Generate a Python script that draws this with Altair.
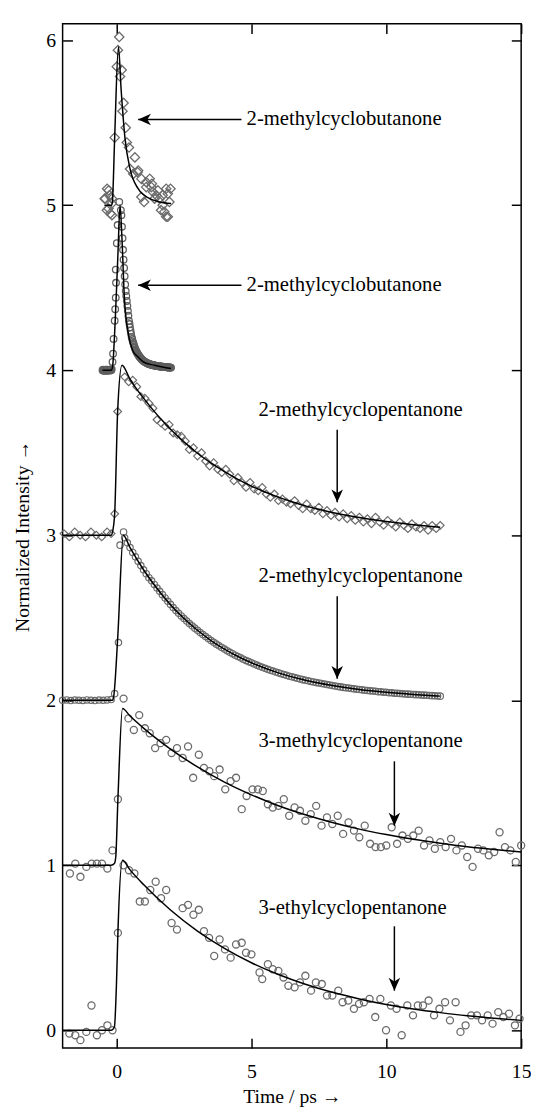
import altair as alt
import pandas as pd

FONT = "Liberation Serif, Times New Roman, serif"

# ---------------- data ----------------
# 2-methylcyclobutanone, diamonds, offset 5
s1_t = [-0.44,-0.42,-0.36,-0.35,-0.30,-0.29,-0.27,-0.23,-0.18,-0.17,-0.17,-0.07,0.01,0.05,0.10,0.13,0.19,0.22,0.26,0.34,
        0.38,0.46,0.50,0.62,0.68,0.78,0.80,0.92,0.92,1.02,1.10,1.10,1.23,1.29,1.31,1.35,1.41,1.47,1.53,1.59,
        1.65,1.71,1.71,1.77,1.84,1.84,1.90,1.90,1.96,2.00]
s1_v = [5.04,5.04,4.97,5.10,4.98,5.09,5.06,4.95,5.01,5.04,4.94,5.41,5.84,5.94,6.02,5.78,5.82,5.57,5.62,5.47,
        5.38,5.35,5.22,5.19,5.29,5.20,5.21,5.16,5.05,5.02,5.14,5.11,5.16,5.11,5.13,5.08,5.04,5.06,5.09,5.04,
        4.97,5.00,5.06,4.96,4.93,5.10,4.93,5.07,5.02,5.10]
f1_t = [-0.45,-0.18,-0.15,-0.07,0.07,0.17,0.31,0.50,0.80,1.23,1.60,2.02]
f1_v = [5.00,5.00,5.03,5.41,5.96,5.70,5.41,5.22,5.10,5.04,5.02,5.01]

# 2-methylcyclobutanone, dense circles, offset 4
s2_t = [-0.52,-0.50,-0.48,-0.46,-0.44,-0.42,-0.40,-0.38,-0.36,-0.34,-0.32,-0.30,-0.28,-0.26,-0.24,-0.22,-0.20,-0.18,
        -0.15,-0.13,-0.11,-0.07,-0.05,-0.03,-0.02,-0.03,0.01,0.04,0.10,
        0.16,0.18,0.20,0.22,0.24,0.26,0.28,0.30,0.32,0.34,0.36,0.38,0.40,0.42,0.44,0.46,0.48,0.50,0.52,0.54,
        0.56,0.58,0.60,0.62,0.64,0.66,0.68,
        0.70,0.72,0.74,0.76,0.78,0.80,0.82,0.84,0.86,0.88,0.90,0.92,0.94,0.96,0.98,1.00,
        1.02,1.04,1.06,1.08,1.10,1.12,1.14,1.16,1.18,1.20,1.22,1.24,1.26,1.28,1.30,1.32,1.34,1.36,1.38,1.40,
        1.42,1.44,1.46,1.48,1.50,
        1.52,1.54,1.56,1.58,1.60,1.62,1.64,1.66,1.68,1.70,1.72,1.74,1.76,1.78,1.80,1.82,1.84,1.86,1.88,1.90,
        1.92,1.94,1.96,1.98,2.00,2.02]
s2_v = [4.000,4.004,3.997,4.002,4.000,3.996,4.003,4.001,3.998,4.004,4.000,3.997,4.002,4.001,3.999,4.003,4.000,4.006,
        4.05,4.10,4.19,4.30,4.37,4.44,4.53,4.61,4.77,4.88,5.02,
        4.97,4.94,4.87,4.80,4.73,4.67,4.62,4.57,4.52,4.48,4.45,4.42,4.39,4.36,4.33,4.30,4.28,4.26,4.24,4.22,
        4.20,4.19,4.175,4.165,4.155,4.145,4.135,
        4.125,4.118,4.112,4.106,4.100,4.095,4.090,4.085,4.080,4.076,4.072,4.068,4.065,4.062,4.059,4.056,
        4.054,4.052,4.050,4.048,4.046,4.044,4.042,4.041,4.040,4.038,4.037,4.036,4.035,4.034,4.033,4.032,4.031,
        4.030,4.030,4.029,4.028,4.028,4.027,4.026,4.026,
        4.025,4.025,4.024,4.024,4.023,4.023,4.022,4.022,4.021,4.021,4.021,4.020,4.020,4.020,4.019,4.019,4.019,
        4.018,4.018,4.018,4.017,4.017,4.017,4.017,4.016,4.016]
f2_t = [-0.52,-0.20,-0.15,-0.05,0.05,0.13,0.20,0.29,0.46,0.60,0.80,1.00,1.41,2.02]
f2_v = [4.00,4.00,4.02,4.30,4.70,5.00,4.80,4.44,4.20,4.12,4.08,4.05,4.03,4.01]

# 2-methylcyclopentanone, diamonds, offset 3
s3_t = [-1.95,-1.75,-1.55,-1.35,-1.15,-0.95,-0.75,-0.55,-0.35,-0.20,-0.07,0.04,
        0.30,0.45,0.60,0.75,0.90,1.05,1.20,1.35,1.50,1.65,1.80,1.95,2.10,2.25,2.40,2.55,2.70,2.85,
        3.00,3.15,3.30,3.45,3.60,3.75,3.90,4.05,4.20,4.35,4.50,4.65,4.80,4.95,5.10,5.25,5.40,5.55,
        5.70,5.85,6.00,6.15,6.30,6.45,6.60,6.75,6.90,7.05,7.20,7.35,7.50,7.65,7.80,7.95,8.10,8.25,
        8.40,8.55,8.70,8.85,9.00,9.15,9.30,9.45,9.60,9.75,9.90,10.05,10.20,10.35,10.50,10.65,10.80,
        10.95,11.10,11.25,11.40,11.55,11.70,11.85,12.00]
s3_v = [3.01,2.99,3.02,3.00,2.99,3.02,3.00,2.99,3.02,3.01,3.13,3.75,
        3.96,3.93,3.94,3.90,3.84,3.83,3.80,3.77,3.70,3.68,3.66,3.67,3.62,3.61,3.60,3.57,3.52,3.53,
        3.48,3.50,3.45,3.42,3.44,3.40,3.38,3.40,3.37,3.33,3.35,3.32,3.29,3.32,3.28,3.27,3.29,3.25,
        3.23,3.25,3.21,3.22,3.20,3.19,3.21,3.18,3.16,3.19,3.16,3.15,3.17,3.13,3.15,3.12,3.14,3.11,
        3.13,3.10,3.12,3.09,3.11,3.08,3.10,3.07,3.11,3.08,3.06,3.09,3.07,3.05,3.08,3.06,3.04,
        3.07,3.05,3.04,3.06,3.03,3.06,3.04,3.06]
f3_t = [-2.0,-0.20,-0.15,-0.07,0.04,0.20,0.5,1.0,1.5,2.0,2.5,3.0,3.5,4.0,4.5,5.0,5.5,6.0,6.5,7.0,7.5,8.0,9.0,10.0,11.0,12.0]
f3_v = [3.00,3.00,3.02,3.13,3.75,4.03,3.945,3.831,3.731,3.643,3.566,3.497,3.438,3.385,3.339,3.298,3.262,3.231,
        3.203,3.178,3.157,3.138,3.107,3.083,3.064,3.049]

# 2-methylcyclopentanone, dense circles, offset 2
s4_t = [-2.00,-1.85,-1.70,-1.55,-1.40,-1.25,-1.10,-0.95,-0.80,-0.65,-0.50,-0.35,-0.20,-0.07,0.07,0.13,0.26,
        0.3,0.4,0.5,0.6,0.7,0.8,0.9,1.0,1.1,1.2,1.3,1.4,1.5,1.6,1.7,1.8,1.9,2.0,2.1,2.2,2.3,2.4,2.5,2.6,2.7,
        2.8,2.9,3.0,3.1,3.2,3.3,3.4,3.5,3.6,3.7,3.8,3.9,4.0,4.1,4.2,4.3,4.4,4.5,4.6,4.7,4.8,4.9,5.0,5.1,5.2,
        5.3,5.4,5.5,5.6,5.7,5.8,5.9,6.0,6.1,6.2,6.3,6.4,6.5,6.6,6.7,6.8,6.9,7.0,7.1,7.2,7.3,7.4,7.5,7.6,7.7,
        7.8,7.9,8.0,8.1,8.2,8.3,8.4,8.5,8.6,8.7,8.8,8.9,9.0,9.1,9.2,9.3,9.4,9.5,9.6,9.7,9.8,9.9,10.0,10.1,
        10.2,10.3,10.4,10.5,10.6,10.7,10.8,10.9,11.0,11.1,11.2,11.3,11.4,11.5,11.6,11.7,11.8,11.9,12.0]
s4_v = [2.000,2.002,1.998,2.001,2.000,1.999,2.002,2.000,1.998,2.001,2.000,2.002,2.004,2.04,2.35,2.94,3.02,
        2.985,2.954,2.925,2.896,2.869,2.842,2.816,2.791,2.767,2.743,2.724,2.702,2.680,2.660,2.640,2.620,2.600,
        2.581,2.562,2.544,2.527,2.511,2.495,2.480,2.465,2.451,2.437,2.424,2.410,2.398,2.386,2.374,2.362,2.351,
        2.340,2.330,2.320,2.310,2.300,2.291,2.282,2.273,2.265,2.257,2.249,2.241,2.234,2.227,2.220,2.213,2.206,
        2.200,2.194,2.188,2.182,2.177,2.171,2.166,2.161,2.156,2.151,2.146,2.142,2.138,2.133,2.129,2.125,2.121,
        2.118,2.114,2.111,2.107,2.104,2.101,2.098,2.095,2.092,2.089,2.086,2.083,2.081,2.078,2.076,2.074,2.071,
        2.069,2.067,2.065,2.063,2.061,2.059,2.057,2.056,2.054,2.052,2.051,2.049,2.048,2.046,2.045,2.043,2.042,
        2.041,2.039,2.038,2.037,2.036,2.035,2.034,2.033,2.032,2.031,2.030,2.029,2.028,2.027,2.026,2.025]
f4_t = [-2.0,-0.15,-0.10,0.05,0.25,0.5,1.0,1.5,2.0,2.5,3.0,3.5,4.0,4.5,5.0,6.0,7.0,8.0,9.0,10.0,11.0,12.0]
f4_v = [2.00,2.00,2.03,2.40,3.00,2.925,2.791,2.677,2.579,2.495,2.424,2.362,2.310,2.265,2.227,2.166,2.121,
        2.089,2.065,2.048,2.035,2.025]

# 3-methylcyclopentanone, circles, offset 1
s5_t = [-1.73,-1.53,-1.34,-1.12,-0.92,-0.73,-0.54,-0.34,-0.15,0.05,0.26,
        0.44,0.64,0.84,1.05,1.23,1.43,1.63,1.84,2.04,2.24,2.45,2.65,2.84,3.05,3.24,3.44,3.62,3.82,4.03,
        4.23,4.43,4.64,4.82,5.04,5.24,5.42,5.61,5.79,
        6.0,6.2,6.4,6.6,6.8,7.0,7.2,7.4,7.6,7.8,8.0,8.2,8.4,8.6,8.8,9.0,9.2,9.4,9.6,9.8,10.0,10.2,10.4,
        10.6,10.8,11.0,11.2,11.4,11.6,11.8,12.0,12.2,12.4,12.6,12.8,13.0,13.2,13.4,13.6,13.8,14.0,14.2,
        14.4,14.6,14.8,15.0]
s5_v = [0.95,1.01,0.93,0.99,1.01,1.01,1.01,0.98,1.09,1.40,2.01,
        1.89,1.82,1.91,1.83,1.80,1.71,1.74,1.76,1.68,1.71,1.65,1.72,1.53,1.67,1.59,1.57,1.54,1.58,1.46,
        1.51,1.53,1.34,1.42,1.46,1.46,1.45,1.37,1.35,
        1.36,1.40,1.30,1.35,1.33,1.27,1.31,1.36,1.24,1.29,1.25,1.30,1.19,1.26,1.21,1.17,1.24,1.13,1.11,1.11,
        1.12,1.23,1.13,1.18,1.16,1.18,1.21,1.12,1.15,1.10,1.14,1.11,1.16,1.09,1.12,1.05,0.99,1.10,1.09,1.06,
        1.08,1.20,1.11,1.09,1.02,1.12]
f5_t = [-2.0,-0.20,-0.08,-0.03,0.05,0.22,0.5,1.0,2.0,3.0,4.0,5.0,6.0,7.0,8.0,9.0,10.0,11.0,12.0,13.0,14.0,15.0]
f5_v = [1.00,1.00,1.01,1.05,1.40,1.95,1.904,1.831,1.704,1.596,1.504,1.427,1.361,1.306,1.259,1.219,1.186,
        1.157,1.133,1.112,1.095,1.081]

# 3-ethylcyclopentanone, circles, offset 0
s6_t = [-1.75,-1.53,-1.34,-1.12,-0.93,-0.73,-0.54,-0.34,-0.15,0.05,0.26,0.46,0.66,0.86,1.05,1.25,1.45,1.65,
        1.84,2.04,2.24,2.45,2.65,2.85,3.05,3.24,3.43,3.62,3.82,4.02,4.23,4.43,4.64,4.80,5.00,5.30,5.40,5.61,
        5.79,6.00,6.19,6.37,6.60,6.80,7.00,7.21,7.39,7.61,7.80,8.00,8.22,8.38,8.59,8.80,8.99,9.17,9.38,9.59,
        9.78,9.99,10.17,10.38,10.57,10.78,10.99,11.17,11.36,11.57,11.77,11.97,12.18,12.36,12.57,12.75,12.94,
        13.15,13.36,13.55,13.76,13.94,14.15,14.34,14.55,14.77,14.94]
s6_v = [-0.02,-0.03,-0.06,-0.01,0.15,-0.03,0.00,0.03,0.00,0.59,1.00,0.97,0.95,0.78,0.78,0.85,0.90,0.80,
        0.85,0.65,0.61,0.74,0.76,0.70,0.73,0.60,0.56,0.45,0.55,0.49,0.44,0.52,0.53,0.47,0.46,0.35,0.31,0.40,
        0.37,0.36,0.32,0.27,0.26,0.29,0.33,0.24,0.29,0.28,0.21,0.21,0.24,0.17,0.18,0.13,0.16,0.17,0.19,0.08,
        0.19,0.00,0.15,0.13,-0.03,0.15,0.09,0.15,0.15,0.18,0.09,0.13,0.17,0.06,0.17,-0.01,0.03,
        0.09,0.09,0.06,0.09,0.04,0.11,0.08,0.10,0.03,0.07]
f6_t = [-2.0,-0.20,-0.08,0.0,0.05,0.22,0.5,1.0,2.0,3.0,4.0,5.0,6.0,7.0,8.0,9.0,10.0,11.0,12.0,13.0,14.0,15.0]
f6_v = [0.00,0.00,0.02,0.30,0.59,1.03,0.972,0.883,0.729,0.601,0.496,0.409,0.338,0.279,0.230,0.190,0.156,
        0.129,0.107,0.088,0.073,0.060]

# annotations
label_text = ["2-methylcyclobutanone", "2-methylcyclobutanone", "2-methylcyclopentanone",
              "2-methylcyclopentanone", "3-methylcyclopentanone", "3-ethylcyclopentanone"]
label_t = [4.82, 4.82, 5.26, 5.26, 5.26, 5.26]
label_v = [5.52, 4.515, 3.76, 2.75, 1.75, 0.74]
harrow_t = [4.63, 4.63]
harrow_t2 = [0.80, 0.80]
harrow_v = [5.52, 4.515]
varrow_t = [8.18, 8.18, 10.3, 10.3]
varrow_v = [3.64, 2.63, 1.63, 0.63]
varrow_v2 = [3.20, 2.13, 1.24, 0.24]


def frame(ts, vs, name):
    return pd.DataFrame([{"t": a, "v": b, "s": name} for a, b in zip(ts, vs)])


xs = alt.Scale(domain=[-2, 15], nice=False, zero=False)
ys = alt.Scale(domain=[-0.108, 6.1], nice=False, zero=False)

ax_bottom = alt.Axis(orient="bottom", values=[0, 5, 10, 15], title="Time / ps →", grid=False,
                     domain=False, tickSize=10, tickWidth=1.5, tickColor="black", offset=-10,
                     labelPadding=14, labelFont=FONT, labelFontSize=20, labelColor="black",
                     labelFlush=False, labelOverlap=False,
                     titleFont=FONT, titleFontSize=20, titleFontWeight="normal", titleColor="black",
                     titlePadding=5)
ax_left = alt.Axis(orient="left", values=[0, 1, 2, 3, 4, 5, 6], title="Normalized Intensity →", grid=False,
                   domain=False, tickSize=10, tickWidth=1.5, tickColor="black", offset=-10,
                   labelPadding=7, labelFont=FONT, labelFontSize=20, labelColor="black",
                   labelFlush=False, labelOverlap=False,
                   titleFont=FONT, titleFontSize=20, titleFontWeight="normal", titleColor="black",
                   titlePadding=14)
ax_top = alt.Axis(orient="top", values=[0, 5, 10, 15], title=None, labels=False, grid=False, domain=False,
                  tickSize=10, tickWidth=1.5, tickColor="black", offset=-10)
ax_right = alt.Axis(orient="right", values=[0, 1, 2, 3, 4, 5, 6], title=None, labels=False, grid=False,
                    domain=False, tickSize=10, tickWidth=1.5, tickColor="black", offset=-10)

GRAY = "#6b6b6b"


def scatter(df, shape, size, width=1.3, color=GRAY, axes=False):
    return alt.Chart(df).mark_point(shape=shape, filled=False, size=size, strokeWidth=width,
                                    color=color, opacity=1).encode(
        x=alt.X("t:Q", scale=xs, axis=ax_bottom if axes else None),
        y=alt.Y("v:Q", scale=ys, axis=ax_left if axes else None),
    )


pts5 = scatter(frame(s5_t, s5_v, "s5"), "circle", 52, axes=True)
pts6 = scatter(frame(s6_t, s6_v, "s6"), "circle", 52)
pts4 = scatter(frame(s4_t, s4_v, "s4"), "circle", 42, width=1.2)
pts2 = scatter(frame(s2_t, s2_v, "s2"), "circle", 45, width=1.3, color="#5e5e5e")
pts3 = scatter(frame(s3_t, s3_v, "s3"), "diamond", 62, width=1.2)
pts1 = scatter(frame(s1_t, s1_v, "s1"), "diamond", 90, width=1.3)

fits = pd.concat([frame(f1_t, f1_v, "f1"), frame(f2_t, f2_v, "f2"), frame(f3_t, f3_v, "f3"),
                  frame(f4_t, f4_v, "f4"), frame(f5_t, f5_v, "f5"), frame(f6_t, f6_v, "f6")],
                 ignore_index=True)
lines = alt.Chart(fits).mark_line(color="black", strokeWidth=1.5, interpolate="monotone").encode(
    x=alt.X("t:Q", scale=xs, axis=ax_top),
    y=alt.Y("v:Q", scale=ys, axis=ax_right),
    detail="s:N",
)

labels_df = pd.DataFrame({"t": label_t, "v": label_v, "txt": label_text})
texts = alt.Chart(labels_df).mark_text(font=FONT, fontSize=21, align="left", baseline="middle",
                                       color="black").encode(
    x=alt.X("t:Q", scale=xs, axis=None), y=alt.Y("v:Q", scale=ys, axis=None), text="txt:N")

h_df = pd.DataFrame({"t": harrow_t, "t2": harrow_t2, "v": harrow_v})
v_df = pd.DataFrame({"t": varrow_t, "v": varrow_v, "v2": varrow_v2})
h_shaft = alt.Chart(h_df).mark_rule(color="black", strokeWidth=1.5).encode(
    x=alt.X("t:Q", scale=xs, axis=None), x2="t2:Q", y=alt.Y("v:Q", scale=ys, axis=None))
v_shaft = alt.Chart(v_df).mark_rule(color="black", strokeWidth=1.5).encode(
    x=alt.X("t:Q", scale=xs, axis=None), y=alt.Y("v:Q", scale=ys, axis=None), y2="v2:Q")
h_head = alt.Chart(h_df).mark_point(shape="M0,0L1,-0.45L0.72,0L1,0.45Z", filled=True, size=676,
                                    color="black", opacity=1, strokeWidth=0).encode(
    x=alt.X("t2:Q", scale=xs, axis=None), y=alt.Y("v:Q", scale=ys, axis=None))
v_head = alt.Chart(v_df).mark_point(shape="M0,0L-0.45,-1L0,-0.72L0.45,-1Z", filled=True, size=676,
                                    color="black", opacity=1, strokeWidth=0).encode(
    x=alt.X("t:Q", scale=xs, axis=None), y=alt.Y("v2:Q", scale=ys, axis=None))

chart = alt.layer(pts5, pts6, pts4, pts2, pts3, pts1, lines, texts, h_shaft, v_shaft, h_head, v_head).resolve_axis(
    x="independent", y="independent"
).properties(
    width=466, height=1041,
    padding={"left": 55.5, "top": 7, "right": 10, "bottom": 58},
    autosize=alt.AutoSizeParams(type="none"),
    background="white",
).configure_view(stroke="black", strokeWidth=1.5)

chart.save("out.html", embed_options={"renderer": "svg", "actions": False})
